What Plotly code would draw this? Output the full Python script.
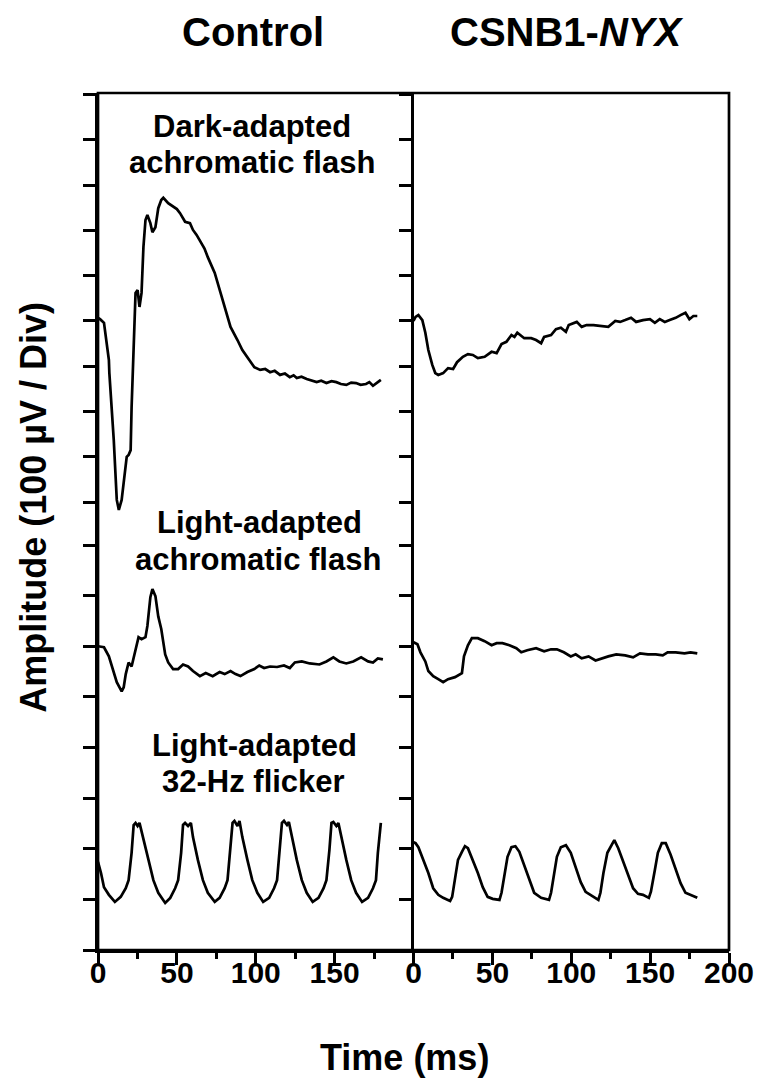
import plotly.graph_objects as go

# ---------------- data (time in ms, amplitude in µV relative to each trace baseline) -------------
ctrl_dark_t = [0, 1.3, 3.8, 5.6, 6.9, 7.2, 10.0, 11.9, 13.2, 15.0, 16.3, 17.6, 18.2, 19.4, 20.7, 21.3,
               22.6, 23.2, 23.8, 25.1, 26.3, 27.6, 28.8, 30.1, 31.3, 33.2, 34.5, 36.4, 38.2, 40.1, 41.4,
               44.5, 47.6, 50.0, 52.0, 55.2, 58.3, 60.2, 62.5, 65.2, 67.5, 69.6, 74.0, 77.7, 80.9, 84.0,
               88.4, 91.5, 95.9, 99.1, 102.8, 106.0, 109.1, 112.0, 115.4, 118.5, 121.6, 124.0, 126.0,
               129.0, 132.3, 135.5, 138.6, 141.5, 144.8, 148.0, 151.1, 154.0, 157.4, 160.5, 163.6,
               166.5, 169.9, 172.0, 174.3, 177.4, 179.3]
ctrl_dark_v = [7, 4, -4, -49, -86, -115, -263, -395, -417, -395, -351, -313, -300, -296, -285, -190,
               -42, 2, 62, 68, 31, 62, 163, 223, 234, 216, 196, 207, 249, 267, 272,
               260, 252, 247, 238, 219, 216, 201, 190, 172, 160, 141, 106, 62, 24, -13,
               -42, -64, -86, -102, -108, -106, -113, -110, -119, -116, -124, -120, -126,
               -123, -128, -131, -135, -132, -137, -133, -135, -139, -141, -136, -137,
               -141, -139, -135, -143, -135, -130]

nyx_dark_t = [0, 1.3, 3.1, 5.6, 7.5, 9.4, 11.9, 13.8, 15.7, 18.8, 21.9, 25.1, 27.6, 31.3, 34.5, 37.6,
              40.8, 45.1, 49.5, 52.7, 55.8, 58.9, 62.1, 64.0, 65.8, 70.2, 74.6, 77.7, 80.9, 82.8,
              87.2, 90.3, 93.4, 96.6, 98.4, 101.6, 103.5, 106.6, 109.7, 114.1, 118.5, 123.5, 127.9,
              131.0, 134.2, 137.9, 141.1, 145.5, 149.9, 153.0, 156.1, 159.3, 162.4, 166.2, 169.3,
              172.4, 174.9, 177.4, 179.9]
nyx_dark_v = [0, 9, 13, 2, -26, -64, -97, -115, -119, -115, -104, -106, -91, -79, -73, -75,
              -82, -79, -68, -71, -51, -46, -31, -35, -26, -38, -38, -42, -49, -35,
              -31, -18, -15, -24, -9, -4, -2, -13, -9, -9, -11, -13, 0,
              -2, 2, 7, -2, 2, 4, -4, 4, -2, 2, 7, 13,
              18, 4, 11, 11]

ctrl_flash_t = [0, 3.8, 6.9, 10.0, 11.9, 15.0, 16.3, 17.6, 19.4, 21.3, 23.8, 25.7, 27.6, 30.1, 31.3,
                33.2, 34.5, 36.4, 38.2, 40.1, 42.6, 44.5, 47.6, 50.8, 53.9, 57.1, 60.2, 64.6, 68.3,
                72.7, 77.1, 80.3, 84.0, 87.2, 90.3, 94.7, 99.1, 102.2, 105.3, 109.1, 113.5, 117.9,
                121.6, 124.8, 129.2, 134.2, 140.4, 144.8, 149.2, 153.0, 157.4, 161.8, 166.8, 171.2,
                174.3, 177.4, 180.6]
ctrl_flash_v = [0, -2, -20, -51, -71, -89, -81, -55, -32, -40, -6, 18, 14, 18, 40,
                97, 113, 99, 59, 34, -16, -32, -45, -45, -36, -40, -49, -59, -53,
                -59, -51, -55, -49, -55, -59, -51, -45, -38, -43, -40, -41, -38,
                -43, -32, -30, -34, -36, -30, -22, -30, -34, -30, -22, -30,
                -32, -24, -26]

nyx_flash_t = [0, 2.5, 4.4, 7.5, 9.4, 12.5, 15.7, 18.8, 21.9, 26.3, 30.7, 32.0, 34.5, 37.0, 40.8,
               45.1, 49.5, 52.7, 56.4, 60.8, 65.2, 68.3, 72.1, 77.7, 82.8, 87.2, 90.9, 95.3, 99.7,
               102.8, 106.6, 111.0, 115.4, 119.1, 123.5, 128.5, 134.2, 139.2, 143.6, 148.6, 153.6,
               158.0, 161.1, 166.2, 171.8, 175.6, 179.9]
nyx_flash_v = [8, 4, -12, -30, -49, -59, -65, -71, -65, -61, -53, -20, 2, 16, 16,
               10, 2, 6, 6, 2, -4, -12, -8, -4, -10, -6, -6, -12, -20,
               -16, -24, -20, -28, -24, -20, -16, -18, -22, -14, -16, -16,
               -18, -12, -12, -14, -12, -14]

ctrl_flicker_t = [0, 1.9, 3.8, 6.9, 10.7, 14.4, 17.6, 19.4, 21.3, 22.6, 23.8, 25.1, 26.3, 28.8, 32.0,
                  35.1, 38.2, 42.6, 45.8, 48.9, 50.8, 52.7, 53.9, 55.2, 57.1, 58.9, 60.2, 63.3, 66.5,
                  69.6, 74.0, 77.1, 80.3, 82.1, 84.0, 85.3, 86.5, 88.4, 89.7, 91.5, 94.7, 97.8, 101.0,
                  104.7, 108.5, 111.6, 113.5, 115.4, 116.6, 117.9, 119.8, 121.0, 122.9, 126.0, 129.2,
                  132.3, 136.1, 139.8, 143.0, 144.8, 146.7, 148.0, 149.2, 151.1, 152.4, 154.2, 157.4,
                  160.5, 163.6, 167.4, 171.2, 174.3, 176.2, 177.4, 179.3]
ctrl_flicker_v = [-26, -48, -76, -91, -105, -95, -78, -62, -8, 47, 51, 45, 51, 21, -22,
                  -62, -87, -107, -97, -78, -62, -8, 47, 51, 45, 51, 23, -22, -62,
                  -87, -105, -97, -78, -62, -2, 51, 55, 45, 55, 23, -22, -62, -87,
                  -105, -97, -78, -62, -2, 51, 55, 47, 53, 23, -22, -62,
                  -87, -105, -97, -78, -62, -2, 51, 53, 45, 51, 23, -22,
                  -62, -87, -105, -97, -78, -62, -8, 51]

nyx_flicker_t = [0, 1.3, 3.1, 6.3, 9.4, 12.5, 15.7, 18.8, 23.2, 24.5, 26.3, 28.2, 30.7, 32.6, 34.5,
                 37.6, 40.8, 43.9, 47.0, 50.2, 54.5, 55.8, 57.7, 59.6, 62.1, 64.6, 67.1, 70.2, 73.4,
                 76.5, 80.9, 85.9, 87.2, 89.0, 90.9, 93.4, 96.6, 99.7, 102.8, 106.0, 109.1, 112.9,
                 117.2, 118.5, 120.4, 122.9, 125.4, 127.3, 129.8, 132.9, 136.1, 139.2, 142.3, 145.5,
                 149.2, 150.5, 153.0, 154.9, 157.4, 159.9, 163.0, 166.2, 169.3, 172.4, 175.6, 179.9]
nyx_flicker_v = [13, 11, 3, -22, -48, -78, -91, -97, -103, -95, -56, -22, -6, 5, 1,
                 -22, -48, -76, -95, -99, -101, -87, -48, -16, 3, 5, -6, -32, -62,
                 -87, -97, -101, -87, -48, -16, 3, 7, -8, -38, -66, -85, -93,
                 -101, -87, -48, -8, 7, 17, 1, -26, -52, -78, -89, -91,
                 -97, -85, -42, -8, 11, 11, -12, -42, -68, -87, -91, -97]

# baselines of the rows on the lower amplitude axis (µV)
FLASH_BASE = 600
FLICKER_BASE = 200

x_ticks_left = [0, 50, 100, 150]
x_ticks_right = [0, 50, 100, 150, 200]

FONT = "Liberation Sans, Arial, Helvetica, sans-serif"
LW = 2.7

fig = go.Figure()

def add(t, v, xa, ya, base=0):
    fig.add_trace(go.Scatter(x=t, y=[a + base for a in v], mode="lines",
                             line=dict(color="black", width=LW), xaxis=xa, yaxis=ya,
                             showlegend=False, hoverinfo="skip"))

add(ctrl_dark_t, ctrl_dark_v, "x", "y")
add(ctrl_flash_t, ctrl_flash_v, "x", "y2", FLASH_BASE)
add(ctrl_flicker_t, ctrl_flicker_v, "x", "y2", FLICKER_BASE)
add(nyx_dark_t, nyx_dark_v, "x2", "y3")
add(nyx_flash_t, nyx_flash_v, "x2", "y4", FLASH_BASE)
add(nyx_flicker_t, nyx_flicker_v, "x2", "y4", FLICKER_BASE)

split = 405 / 857.0
upper_range = [-494.5, 503.3]
lower_range = [0, 800]

common_y = dict(ticks="outside", ticklen=12, tickwidth=LW, tickcolor="black",
                showticklabels=False, showline=True, linewidth=LW, linecolor="black",
                showgrid=False, zeroline=False, tick0=0, dtick=100)
common_x = dict(range=[0, 200], ticks="outside", ticklen=12, tickwidth=LW, tickcolor="black",
                showline=True, linewidth=LW, linecolor="black", showgrid=False, zeroline=False,
                tickmode="array", ticklabelstandoff=-18,
                tickfont=dict(family=FONT, size=30, color="black", weight="bold"),
                minor=dict(tickmode="linear", tick0=0, dtick=25, ticks="outside", ticklen=6,
                           tickwidth=LW, tickcolor="black", showgrid=False))

# page body has an 8px margin: figure is sized so that the picture lands at 766x1083 coordinates
fig.update_layout(
    width=758, height=1075,
    margin=dict(l=90, r=29, t=85, b=133),
    paper_bgcolor="white", plot_bgcolor="white",
    xaxis=dict(domain=[0, 0.5], anchor="y2", tickvals=x_ticks_left, **common_x),
    xaxis2=dict(domain=[0.5, 1], anchor="y4", tickvals=x_ticks_right, **common_x),
    yaxis=dict(domain=[split, 1], range=upper_range, anchor="x", **common_y),
    yaxis2=dict(domain=[0, split], range=lower_range, anchor="x", **common_y),
    yaxis3=dict(domain=[split, 1], range=upper_range, anchor="x2", **common_y),
    yaxis4=dict(domain=[0, split], range=lower_range, anchor="x2", **common_y),
)

fig.add_shape(type="rect", xref="paper", yref="paper", x0=0, y0=0, x1=1, y1=1,
              line=dict(color="black", width=LW))

def px_x(p):
    return (p - 98) / 639.0

def px_y(p):
    return (950 - p) / 857.0

def label(text, x, y, size, angle=0):
    fig.add_annotation(text=text, xref="paper", yref="paper", x=px_x(x), y=px_y(y),
                       xanchor="center", yanchor="middle", showarrow=False, textangle=angle,
                       font=dict(family=FONT, size=size, color="black", weight="bold"))

label("Control", 255, 32, 40)
label("CSNB1-<i>NYX</i>", 572, 32, 40)
label("Dark-adapted", 254, 126, 31)
label("achromatic flash", 254, 162, 31)
label("Light-adapted", 262, 522, 31)
label("achromatic flash", 260, 559, 31)
label("Light-adapted", 256, 745, 31)
label("32-Hz flicker", 255, 781, 31)
label("Time (ms)", 408, 1057, 36)
label("Amplitude (100 µV / Div)", 32, 507, 36, angle=-90)

fig.write_html("out.html")
